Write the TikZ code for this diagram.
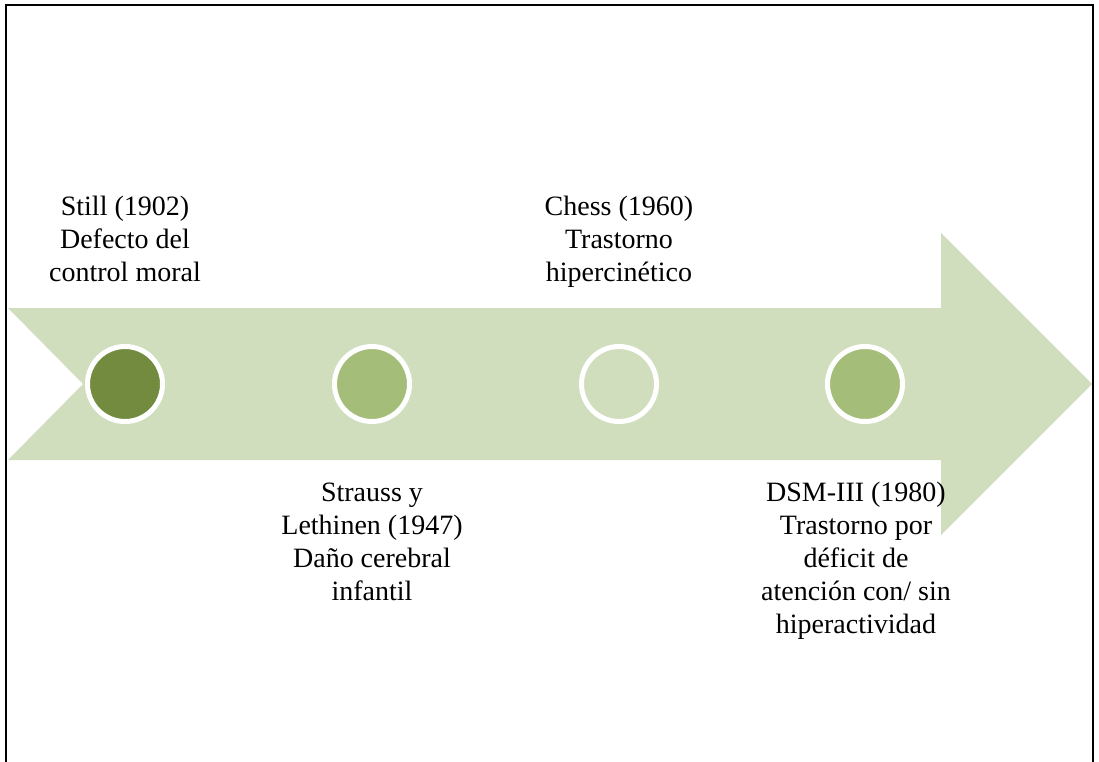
\documentclass[tikz,border=0pt]{standalone}
\usepackage{fontspec}
\setmainfont{Liberation Serif}
\definecolor{bandgreen}{HTML}{D1DEBE}
\definecolor{darkolive}{HTML}{728B3F}
\definecolor{midolive}{HTML}{A4BD78}
\begin{document}
\begin{tikzpicture}[x=1pt,y=-1pt,
  milestone/.style={circle,draw=white,line width=5pt,minimum size=75pt,inner sep=0pt},
  caption/.style={align=center,anchor=base,inner sep=0pt,
    font=\fontsize{28}{33}\selectfont}]
  \useasboundingbox (0,0) rectangle (1099,761);
  % frame, open at the bottom
  \draw[line width=2.4pt] (6,775) -- (6,5) -- (1093,5) -- (1093,775);
  % timeline arrow
  \fill[bandgreen] (8,308) -- (941,308) -- (941,233) -- (1092,384)
    -- (941,535) -- (941,460) -- (8,460) -- (83,384) -- cycle;
  % milestones
  \node[milestone,fill=darkolive] (m1) at (125,384) {};
  \node[milestone,fill=midolive]  (m2) at (372,384) {};
  \node[milestone,fill=bandgreen] (m3) at (619,384) {};
  \node[milestone,fill=midolive]  (m4) at (865,384) {};
  % labels (anchored at the baseline of their last line)
  \node[caption] (t1) at (125,281) {Still (1902)\\Defecto del\\control moral};
  \node[caption] (t3) at (619,281) {Chess (1960)\\Trastorno\\hipercinético};
  \node[caption] (t2) at (372,600) {Strauss y\\Lethinen (1947)\\Daño cerebral\\infantil};
  \node[caption] (t4) at (856,633) {DSM-III (1980)\\Trastorno por\\déficit de\\atención con/ sin\\hiperactividad};
\end{tikzpicture}
\end{document}
